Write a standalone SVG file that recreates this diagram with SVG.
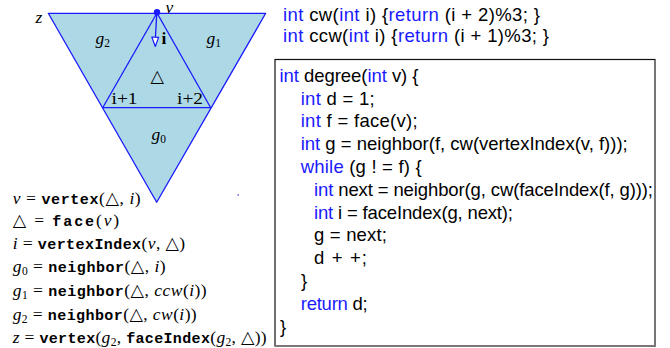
<svg xmlns="http://www.w3.org/2000/svg" width="670" height="348" viewBox="0 0 670 348">
<style>
.r{font-family:"Liberation Serif","DejaVu Serif",serif;font-size:17.5px;fill:#000}
.m{font-style:italic}
.tt{font-family:"Liberation Mono","DejaVu Sans Mono",monospace;font-weight:bold;font-size:15px}
.sub{font-size:11.5px}
.c{font-family:"Liberation Sans","DejaVu Sans",sans-serif;font-size:18.5px;fill:#000}
.k{fill:#1a1aff}
.face{fill:#add8e6;stroke:#1a1aff;stroke-width:1.3;stroke-linejoin:round}
.edge{stroke:#1a1aff;stroke-width:1.3;fill:none}
.sym{font-family:"DejaVu Sans",sans-serif;font-weight:normal}
</style>
<g id="mesh">
<polygon class="face" points="48.3,13.3 265.7,13.3 156.7,202.3"/>
<line class="edge" x1="157" y1="13" x2="102.7" y2="107.7"/>
<line class="edge" x1="157" y1="13" x2="210.7" y2="107.7"/>
<line class="edge" x1="102.7" y1="107.7" x2="210.7" y2="107.7"/>
</g>
<g id="connectors">
<line class="edge" x1="156.8" y1="13" x2="155.4" y2="38"/>
<polygon points="151.8,37 158.6,37.4 155.3,46.5" fill="#fff" stroke="#1a1aff" stroke-width="1.2" stroke-linejoin="round"/>
</g>
<g id="vertex-v">
<circle cx="157" cy="12.3" r="3.2" fill="#1a1aff"/>
<text class="r m" x="165.5" y="12.6" font-size="14">v</text>
</g>
<g id="labels">
<text class="r m" x="35.5" y="23">z</text>
<text class="r" x="161.5" y="43.5" font-weight="bold" font-size="15">i</text>
<text class="r m" x="95.5" y="44" font-size="19">g<tspan class="sub" dy="3" font-style="normal">2</tspan></text>
<text class="r m" x="206.5" y="44" font-size="19">g<tspan class="sub" dy="3" font-style="normal">1</tspan></text>
<text class="r sym" x="150.5" y="82" font-size="19">△</text>
<text class="r m" x="151.5" y="140" font-size="19">g<tspan class="sub" dy="3" font-style="normal">0</tspan></text>
<text class="r" x="111.5" y="104.3" font-size="15.5" textLength="26" lengthAdjust="spacingAndGlyphs">i+1</text>
<text class="r" x="177" y="104.3" font-size="15.5" textLength="26" lengthAdjust="spacingAndGlyphs">i+2</text>
<rect x="237.5" y="194.5" width="1.5" height="1" fill="#1a1aff"/>
</g>
<g id="formulas">
<text class="r" x="12.7" y="204" textLength="128" lengthAdjust="spacing"><tspan class="m">v</tspan> = <tspan class="tt">vertex</tspan>(<tspan class="sym">△</tspan>, <tspan class="m">i</tspan>)</text>
<text class="r" x="12.7" y="226" textLength="106.5" lengthAdjust="spacing"><tspan class="sym">△</tspan> = <tspan class="tt">face</tspan>(<tspan class="m">v</tspan>)</text>
<text class="r" x="12.7" y="249" textLength="172.5" lengthAdjust="spacing"><tspan class="m">i</tspan> = <tspan class="tt">vertexIndex</tspan>(<tspan class="m">v</tspan>, <tspan class="sym">△</tspan>)</text>
<text class="r" x="12.7" y="272" textLength="153" lengthAdjust="spacing"><tspan class="m">g</tspan><tspan class="sub" dy="3">0</tspan><tspan dy="-3"> = </tspan><tspan class="tt">neighbor</tspan>(<tspan class="sym">△</tspan>, <tspan class="m">i</tspan>)</text>
<text class="r" x="12.7" y="296" textLength="194" lengthAdjust="spacing"><tspan class="m">g</tspan><tspan class="sub" dy="3">1</tspan><tspan dy="-3"> = </tspan><tspan class="tt">neighbor</tspan>(<tspan class="sym">△</tspan>, <tspan class="m">ccw</tspan>(<tspan class="m">i</tspan>))</text>
<text class="r" x="12.7" y="320" textLength="184" lengthAdjust="spacing"><tspan class="m">g</tspan><tspan class="sub" dy="3">2</tspan><tspan dy="-3"> = </tspan><tspan class="tt">neighbor</tspan>(<tspan class="sym">△</tspan>, <tspan class="m">cw</tspan>(<tspan class="m">i</tspan>))</text>
<text class="r" x="12.7" y="343" textLength="254" lengthAdjust="spacing"><tspan class="m">z</tspan> = <tspan class="tt">vertex</tspan>(<tspan class="m">g</tspan><tspan class="sub" dy="3">2</tspan><tspan dy="-3">, </tspan><tspan class="tt">faceIndex</tspan>(<tspan class="m">g</tspan><tspan class="sub" dy="3">2</tspan><tspan dy="-3">, </tspan><tspan class="sym">△</tspan>))</text>
</g>
<g id="helpers">
<text class="c" x="283" y="20.5" textLength="257" lengthAdjust="spacing"><tspan class="k">int</tspan> cw(<tspan class="k">int</tspan> i) {<tspan class="k">return</tspan> (i + 2)%3;  }</text>
<text class="c" x="283" y="41.5" textLength="266" lengthAdjust="spacing"><tspan class="k">int</tspan> ccw(<tspan class="k">int</tspan> i) {<tspan class="k">return</tspan> (i + 1)%3;  }</text>
</g>
<g id="code-box">
<rect x="275" y="59.5" width="380" height="286.5" fill="#fff" stroke="#111" stroke-width="1.2"/>
<polyline points="655,60 655,346 275,346" fill="none" stroke="#777" stroke-width="1.8"/>
<text class="c" x="279.5" y="81.7" textLength="139" lengthAdjust="spacing"><tspan class="k">int</tspan> degree(<tspan class="k">int</tspan> v) {</text>
<text class="c" x="300.7" y="104.5" textLength="74" lengthAdjust="spacing"><tspan class="k">int</tspan> d = 1;</text>
<text class="c" x="300.7" y="127.3" textLength="117" lengthAdjust="spacing"><tspan class="k">int</tspan> f = face(v);</text>
<text class="c" x="300.7" y="150.1" textLength="327" lengthAdjust="spacing"><tspan class="k">int</tspan> g = neighbor(f, cw(vertexIndex(v, f)));</text>
<text class="c" x="300.7" y="172.9" textLength="121" lengthAdjust="spacing"><tspan class="k">while</tspan> (g ! = f) {</text>
<text class="c" x="314" y="195.7" textLength="339" lengthAdjust="spacing"><tspan class="k">int</tspan> next = neighbor(g, cw(faceIndex(f, g)));</text>
<text class="c" x="314" y="218.5" textLength="199" lengthAdjust="spacing"><tspan class="k">int</tspan> i = faceIndex(g, next);</text>
<text class="c" x="314" y="241.3" textLength="73" lengthAdjust="spacing">g = next;</text>
<text class="c" x="314" y="264.1" textLength="53" lengthAdjust="spacing">d + +;</text>
<text class="c" x="301" y="286.9">}</text>
<text class="c" x="300.7" y="309.7" textLength="67" lengthAdjust="spacing"><tspan class="k">return</tspan> d;</text>
<text class="c" x="280" y="332.5">}</text>
</g>
</svg>
